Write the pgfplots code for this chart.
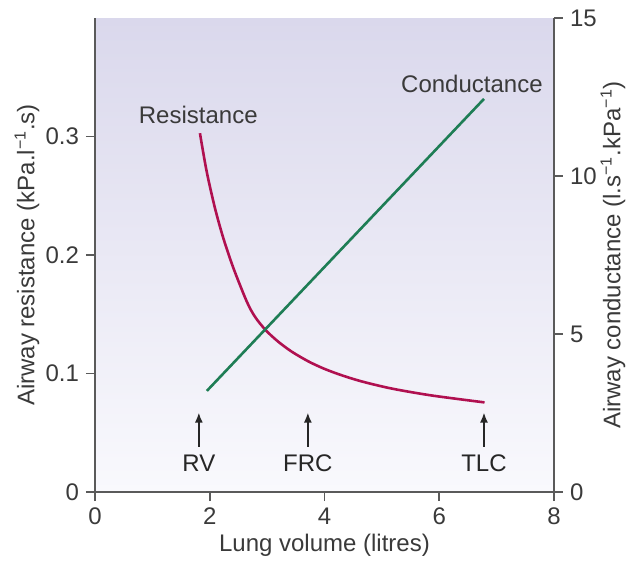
\documentclass[border=0pt]{standalone}
\usepackage{fontspec}
\setmainfont{Liberation Sans}
\usepackage{pgfplots}
\pgfplotsset{compat=1.18}
\usetikzlibrary{arrows.meta}
\definecolor{txt}{HTML}{3A3A3A}
\definecolor{axl}{HTML}{5A5A5A}
\definecolor{res}{HTML}{B01050}
\definecolor{con}{HTML}{1E7D55}
\definecolor{bgtop}{RGB}{218,216,236}
\definecolor{bgbot}{RGB}{249,249,253}
\begin{document}
\begin{tikzpicture}
\pgfplotsset{
  common/.style={
    scale only axis, width=229.5pt, height=237pt,
    xmin=0, xmax=8,
    axis line style={axl, line width=1.1pt},
    tick style={axl, line width=0.8pt},
    major tick length=4.5pt,
    tick align=outside,
    /pgf/number format/assume math mode=true,
    tick label style={font=\fontsize{12}{14}\selectfont, text=txt},
    label style={font=\fontsize{12}{14}\selectfont, text=txt},
  }
}
\begin{axis}[common,
  axis x line*=bottom, axis y line*=left,
  ymin=0, ymax=0.4,
  xtick={0,2,4,6,8},
  ytick={0,0.1,0.2,0.3}, yticklabels={0,0.1,0.2,0.3},
  xlabel={Lung volume (litres)},
  ylabel={Airway resistance (kPa.l\textsuperscript{−1}.s)},
  xlabel style={at={(axis description cs:0.5,-0.1118)}, anchor=center},
  ylabel style={at={(axis description cs:-0.148,0.5)}, anchor=center, rotate=0},
  axis background/.style={top color=bgtop, bottom color=bgbot},
  clip=false,
]
\addplot[res, line width=1.3pt, smooth, tension=0.5] coordinates {
(1.829,0.3028) (1.946,0.2706) (2.09,0.2398) (2.235,0.2145) (2.41,0.1893)
(2.643,0.161) (2.787,0.148) (2.973,0.1367) (3.19,0.127) (3.43,0.1184)
(3.72,0.1102) (4.0,0.1039) (4.3,0.0985) (4.62,0.0937) (5.0,0.0891)
(5.31,0.0860) (5.89,0.0813) (6.79,0.0756)
};
\node[font=\fontsize{12}{14}\selectfont, text=txt] at (axis cs:1.80,0.318) {Resistance};
\node[font=\fontsize{12}{14}\selectfont, text=txt] at (axis cs:6.57,0.3445) {Conductance};
\draw[black!85, line width=0.8pt, -{Latex[length=5pt,width=4pt]}] (axis cs:1.81,0.038) -- (axis cs:1.81,0.067);
\draw[black!85, line width=0.8pt, -{Latex[length=5pt,width=4pt]}] (axis cs:3.71,0.038) -- (axis cs:3.71,0.067);
\draw[black!85, line width=0.8pt, -{Latex[length=5pt,width=4pt]}] (axis cs:6.78,0.038) -- (axis cs:6.78,0.067);
\node[font=\fontsize{12}{14}\selectfont, text=black!85] at (axis cs:1.81,0.024) {RV};
\node[font=\fontsize{12}{14}\selectfont, text=black!85] at (axis cs:3.71,0.024) {FRC};
\node[font=\fontsize{12}{14}\selectfont, text=black!85] at (axis cs:6.78,0.024) {TLC};
\end{axis}
\begin{axis}[common,
  axis x line=none, axis y line*=right,
  ymin=0, ymax=15, ytick={0,5,10,15},
  ylabel={Airway conductance (l.s\textsuperscript{−1}.kPa\textsuperscript{−1})},
  ylabel style={at={(axis description cs:1.1285,0.5)}, anchor=center, rotate=0},
]
\addplot[con, line width=1.3pt] coordinates {(1.95,3.2) (6.78,12.44)};
\end{axis}
\pgfresetboundingbox
\path[use as bounding box] (-47.5pt,-35.5pt) rectangle (269pt,246pt);
\end{tikzpicture}
\end{document}
